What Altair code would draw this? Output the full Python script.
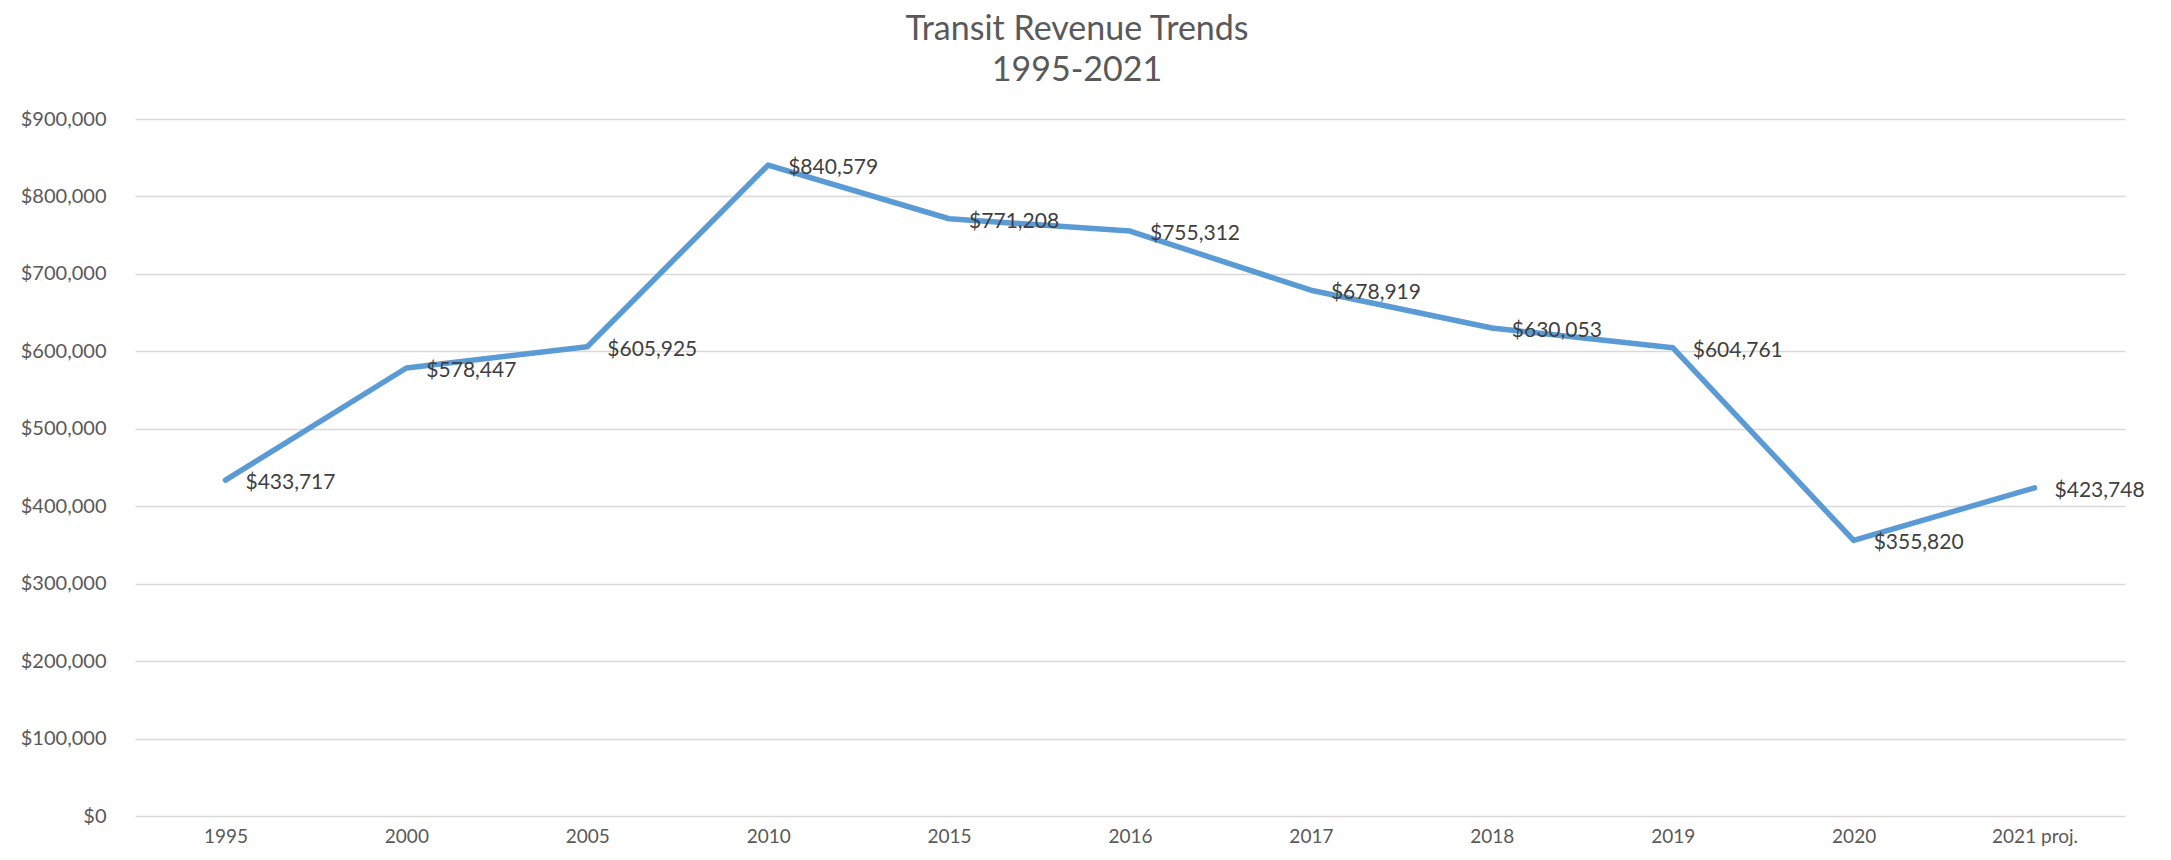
import altair as alt
import pandas as pd

years = ["1995", "2000", "2005", "2010", "2015", "2016", "2017", "2018", "2019", "2020", "2021 proj."]
revenue = [433717, 578447, 605925, 840579, 771208, 755312, 678919, 630053, 604761, 355820, 423748]

df = pd.DataFrame({"year": years, "revenue": revenue})

FONT = "Lato"

x = alt.X(
    "year:N",
    sort=years,
    scale=alt.Scale(type="point", padding=0.5),
    axis=alt.Axis(
        title=None, labelAngle=0, ticks=False, domain=False, grid=False,
        labelFont=FONT, labelFontSize=19, labelColor="#595959", labelPadding=11,
    ),
)
y = alt.Y(
    "revenue:Q",
    scale=alt.Scale(domain=[0, 900000], nice=False),
    axis=alt.Axis(
        title=None, values=list(range(0, 900001, 100000)), format="$,.0f",
        ticks=False, domain=False, grid=True, gridColor="#d9d9d9", gridWidth=1.5,
        labelFont=FONT, labelFontSize=20, labelColor="#595959", labelPadding=29,
    ),
)

line = alt.Chart(df).mark_line(
    color="#5B9BD5", strokeWidth=5.5, strokeCap="round", strokeJoin="round"
).encode(x=x, y=y)

labels = alt.Chart(df).mark_text(
    align="left", baseline="middle", dx=20, dy=3, font=FONT, fontSize=21, color="#404040"
).encode(x=x, y=y, text=alt.Text("revenue:Q", format="$,.0f"))

chart = (
    alt.layer(line, labels)
    .properties(
        width=1990,
        height=697,
        padding={"left": 12, "top": 5, "right": 10, "bottom": 0},
        title=alt.TitleParams(
            text="Transit Revenue Trends",
            subtitle="1995-2021",
            font=FONT, fontSize=34, fontWeight="normal", color="#595959",
            subtitleFont=FONT, subtitleFontSize=34, subtitleFontWeight="normal",
            subtitleColor="#595959", subtitlePadding=7,
            anchor="middle", frame="group", dx=-53, offset=21,
        ),
    )
    .configure_view(stroke=None)
)

chart.save("out.html", embed_options={"renderer": "svg", "actions": False})
